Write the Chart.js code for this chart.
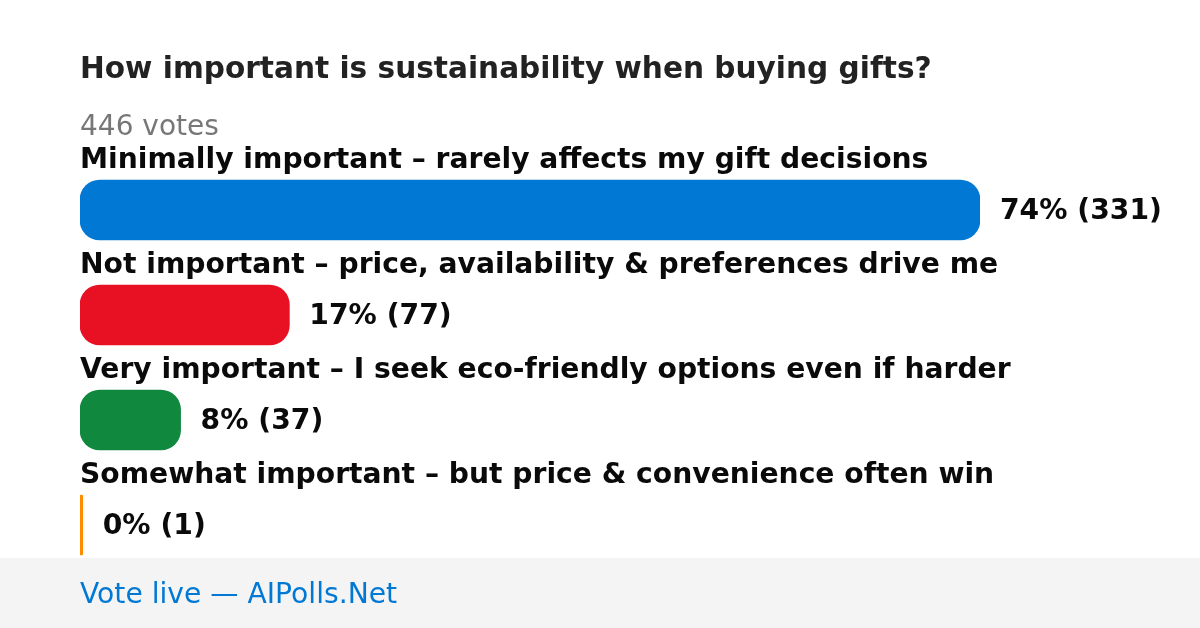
<!DOCTYPE html>
<html lang="en">
<head>
  <meta charset="UTF-8">
  <title>How important is sustainability when buying gifts?</title>
  <script src="https://cdn.jsdelivr.net/npm/chart.js"></script>
  <style>
    body {
      margin: 0;
      background: #ffffff;
      font-family: 'DejaVu Sans', sans-serif;
    }

    .wrap {
      width: 1200px;
      height: 628px;
    }
  </style>
</head>
<body>

<div class="wrap">
  <canvas id="pollChart" width="1200" height="628"></canvas>
</div>

<script>
  // Poll data
  const pollTitle = 'How important is sustainability when buying gifts?';
  const totalVotes = 446;
  const categories = [
    'Minimally important – rarely affects my gift decisions',
    'Not important – price, availability & preferences drive me',
    'Very important – I seek eco-friendly options even if harder',
    'Somewhat important – but price & convenience often win'
  ];
  const votes = [331, 77, 37, 1];
  const percents = [74, 17, 8, 0];
  const barColors = ['#0078D4', '#E81123', '#10893E', '#FF8C00'];
  const footerText = 'Vote live — AIPolls.Net';

  const FONT = "'DejaVu Sans', sans-serif";

  // Title, labels above bars, value labels and footer
  const pollText = {
    id: 'pollText',
    beforeDraw(chart) {
      const ctx = chart.ctx;
      ctx.save();
      ctx.fillStyle = '#ffffff';
      ctx.fillRect(0, 0, chart.width, chart.height);
      ctx.fillStyle = '#f4f4f4';
      ctx.fillRect(0, 558, chart.width, chart.height - 558);
      ctx.restore();
    },
    afterDatasetsDraw(chart) {
      const ctx = chart.ctx;
      const left = chart.chartArea.left;
      ctx.save();
      ctx.textAlign = 'left';
      ctx.textBaseline = 'alphabetic';

      ctx.fillStyle = '#222222';
      ctx.font = `bold 29.6px ${FONT}`;
      ctx.fillText(pollTitle, left, 78);

      ctx.fillStyle = '#777777';
      ctx.font = `28px ${FONT}`;
      ctx.fillText(`${totalVotes} votes`, left, 135);

      const meta = chart.getDatasetMeta(0);
      ctx.fillStyle = '#0a0a0a';
      ctx.font = `bold 28.2px ${FONT}`;
      meta.data.forEach((bar, i) => {
        const top = bar.y - bar.height / 2;
        ctx.fillText(categories[i], left, top - 12);
        ctx.fillText(`${percents[i]}% (${votes[i]})`, bar.x + 20, bar.y + 8.5);
      });

      ctx.fillStyle = '#0078D4';
      ctx.font = `28.2px ${FONT}`;
      ctx.fillText(footerText, left, 603);
      ctx.restore();
    }
  };

  new Chart(document.getElementById('pollChart'), {
    type: 'bar',
    data: {
      labels: categories,
      datasets: [{
        data: votes,
        backgroundColor: barColors,
        borderRadius: 20,
        borderSkipped: false,
        barThickness: 60
      }]
    },
    options: {
      indexAxis: 'y',
      responsive: false,
      animation: false,
      layout: {
        padding: { left: 80, right: 220, top: 157.5, bottom: 50.5 }
      },
      plugins: {
        legend: { display: false },
        tooltip: { enabled: false }
      },
      scales: {
        x: { display: false, min: 0, max: Math.max(...votes) },
        y: { display: false }
      }
    },
    plugins: [pollText]
  });
</script>

</body>
</html>
